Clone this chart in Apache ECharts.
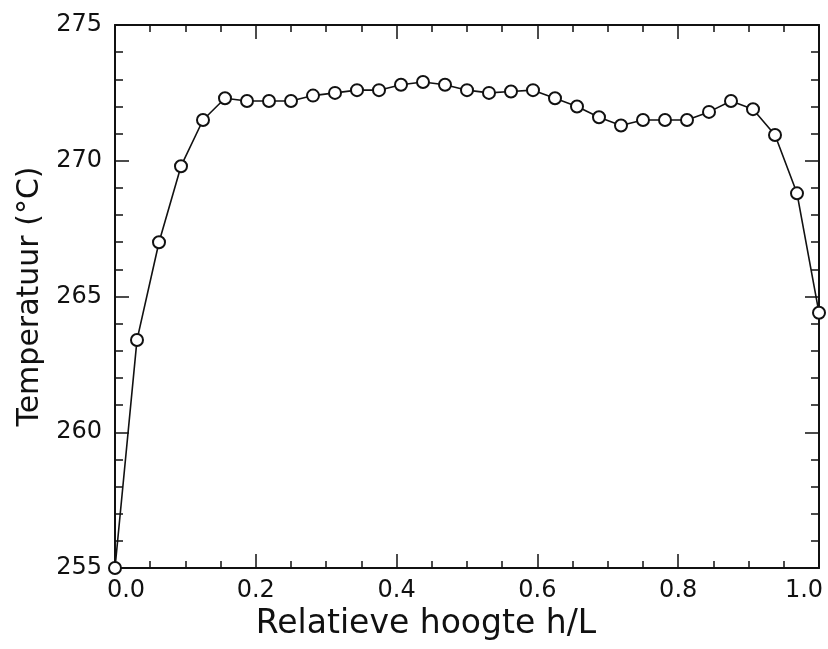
<!DOCTYPE html>
<html>
<head>
<meta charset="utf-8">
<script src="https://cdn.jsdelivr.net/npm/echarts@6/dist/echarts.min.js"></script>
<style>
html,body{margin:0;padding:0;background:#fff;}
#chart{width:828px;height:649px;}
</style>
</head>
<body>
<div id="chart"></div>
<script>
// Relative height h/L (x) and temperature in °C (y)
var hoogte = [0, 0.03125, 0.0625, 0.09375, 0.125, 0.15625, 0.1875, 0.21875, 0.25, 0.28125,
  0.3125, 0.34375, 0.375, 0.40625, 0.4375, 0.46875, 0.5, 0.53125, 0.5625, 0.59375,
  0.625, 0.65625, 0.6875, 0.71875, 0.75, 0.78125, 0.8125, 0.84375, 0.875, 0.90625,
  0.9375, 0.96875, 1.0];
var temperatuur = [255.0, 263.4, 267.0, 269.8, 271.5, 272.3, 272.2, 272.2, 272.2, 272.4,
  272.5, 272.6, 272.6, 272.8, 272.9, 272.8, 272.6, 272.5, 272.55, 272.6,
  272.3, 272.0, 271.6, 271.3, 271.5, 271.5, 271.5, 271.8, 272.2, 271.9,
  270.95, 268.8, 264.4];
var xTitle = 'Relatieve hoogte h/L';
var yTitle = 'Temperatuur (°C)';

var FONT = 'DejaVu Sans';
var INK = '#111';

var chart = echarts.init(document.getElementById('chart'), null, {renderer: 'canvas'});

function axisCommon() {
  return {
    axisLine: {show: true, onZero: false, lineStyle: {color: INK, width: 2}},
    axisTick: {show: true, inside: true, length: 14, lineStyle: {color: INK, width: 1.5}},
    minorTick: {show: true, length: 7, lineStyle: {color: INK, width: 1.5}},
    splitLine: {show: false},
    minorSplitLine: {show: false}
  };
}

var labelRich = {
  a: {fontFamily: FONT, fontSize: 24, color: INK, padding: [0, 0, 0, 22]},
  b: {fontFamily: FONT, fontSize: 24, color: INK, padding: [0, 30, 0, 0]}
};

var xBottom = Object.assign(axisCommon(), {
  type: 'value', position: 'bottom', min: 0, max: 1, interval: 0.2,
  minorTick: {show: true, splitNumber: 4, length: 7, lineStyle: {color: INK, width: 1.5}},
  axisLabel: {
    show: true, margin: 11, fontFamily: FONT, fontSize: 24, color: INK,
    formatter: function (v) {
      if (v === 0) return '{a|0.0}';
      if (v === 1) return '{b|1.0}';
      return v.toFixed(1);
    },
    rich: labelRich
  },
  name: xTitle, nameLocation: 'middle', nameGap: 38,
  nameTextStyle: {fontFamily: FONT, fontSize: 33, color: INK, padding: [0, 82, 0, 0]}
});
var xTop = Object.assign(axisCommon(), {
  type: 'value', position: 'top', min: 0, max: 1, interval: 0.2,
  minorTick: {show: true, splitNumber: 4, length: 7, lineStyle: {color: INK, width: 1.5}},
  axisLabel: {show: false}
});
var yLeft = Object.assign(axisCommon(), {
  type: 'value', position: 'left', min: 255, max: 275, interval: 5,
  minorTick: {show: true, splitNumber: 5, length: 8, lineStyle: {color: INK, width: 1.5}},
  axisLabel: {show: true, margin: 13, fontFamily: FONT, fontSize: 24, color: INK},
  name: yTitle, nameLocation: 'middle', nameGap: 70, nameRotate: 90,
  nameTextStyle: {fontFamily: FONT, fontSize: 30, color: INK}
});
var yRight = Object.assign(axisCommon(), {
  type: 'value', position: 'right', min: 255, max: 275, interval: 5,
  minorTick: {show: true, splitNumber: 5, length: 8, lineStyle: {color: INK, width: 1.5}},
  axisLabel: {show: false}
});

var seriesData = hoogte.map(function (h, i) { return [h, temperatuur[i]]; });

chart.setOption({
  animation: false,
  backgroundColor: '#fff',
  grid: {left: 115, right: 9, top: 25, bottom: 81, containLabel: false},
  xAxis: [xBottom, xTop],
  yAxis: [yLeft, yRight],
  series: [{
    type: 'line',
    xAxisIndex: 0, yAxisIndex: 0,
    data: seriesData,
    symbol: 'emptyCircle',
    symbolSize: 12,
    showAllSymbol: true,
    clip: false,
    lineStyle: {color: INK, width: 1.6},
    itemStyle: {color: INK, borderColor: INK, borderWidth: 1.5}
  }]
});
</script>
</body>
</html>
